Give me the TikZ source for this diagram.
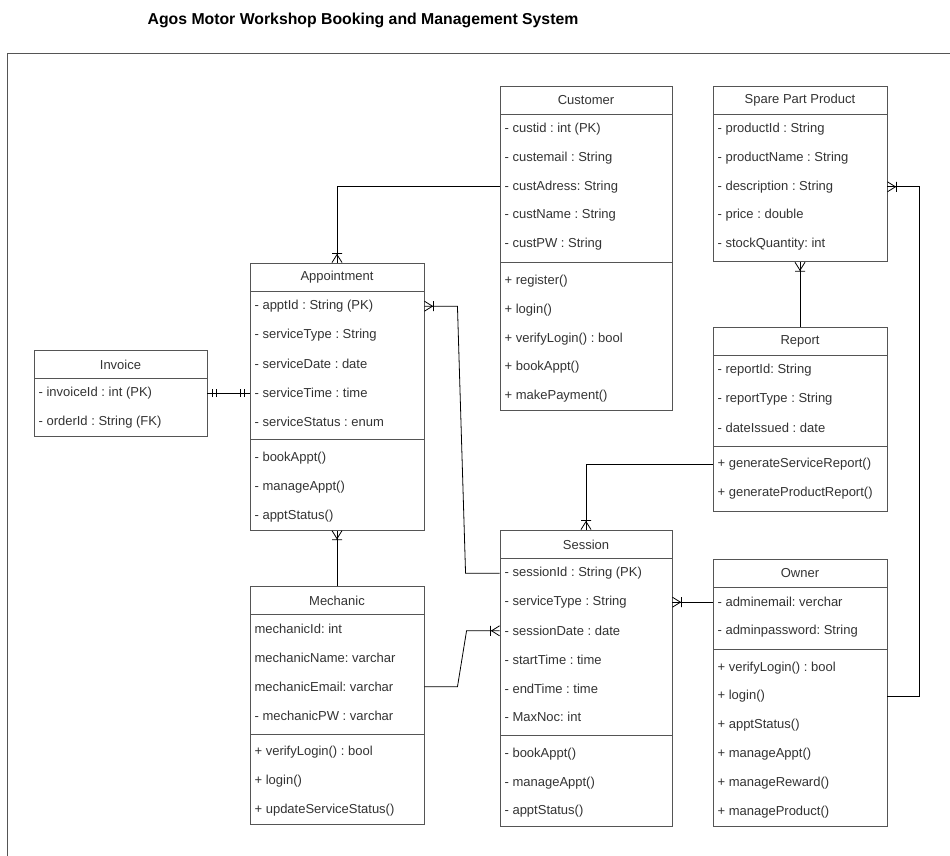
\documentclass[tikz,border=0pt]{standalone}
\usepackage{fontspec}
\setmainfont{Liberation Sans}
\usetikzlibrary{calc,fit,arrows.meta}
\definecolor{txtc}{HTML}{333333}
\definecolor{edgec}{HTML}{555555}
\frenchspacing

\pgfdeclarearrow{
  name = CrowBar,
  setup code = {
    \pgfarrowssettipend{0pt}
    \pgfarrowssetlineend{0pt}
    \pgfarrowssetbackend{-10pt}
    \pgfarrowssetvisualbackend{-10pt}
    \pgfarrowshullpoint{0pt}{5pt}
    \pgfarrowshullpoint{0pt}{-5pt}
    \pgfarrowshullpoint{-10pt}{0pt}
  },
  drawing code = {
    \pgfsetdash{}{0pt}
    \pgfpathmoveto{\pgfqpoint{0pt}{5pt}}
    \pgfpathlineto{\pgfqpoint{-8pt}{0pt}}
    \pgfpathlineto{\pgfqpoint{0pt}{-5pt}}
    \pgfpathmoveto{\pgfqpoint{-9pt}{5pt}}
    \pgfpathlineto{\pgfqpoint{-9pt}{-5pt}}
    \pgfusepathqstroke
  }
}
\pgfdeclarearrow{
  name = MandOne,
  setup code = {
    \pgfarrowssettipend{0pt}
    \pgfarrowssetlineend{0pt}
    \pgfarrowssetbackend{-10pt}
    \pgfarrowssetvisualbackend{-10pt}
    \pgfarrowshullpoint{0pt}{4pt}
    \pgfarrowshullpoint{0pt}{-4pt}
    \pgfarrowshullpoint{-10pt}{0pt}
  },
  drawing code = {
    \pgfsetdash{}{0pt}
    \pgfpathmoveto{\pgfqpoint{-5pt}{4pt}}
    \pgfpathlineto{\pgfqpoint{-5pt}{-4pt}}
    \pgfpathmoveto{\pgfqpoint{-9pt}{4pt}}
    \pgfpathlineto{\pgfqpoint{-9pt}{-4pt}}
    \pgfusepathqstroke
  }
}

\tikzset{
  classbox/.style={draw=edgec, line width=0.9pt, inner sep=0pt, rectangle},
  boxline/.style={draw=edgec, line width=0.9pt},
  attrtext/.style={anchor=west, inner sep=0pt, text=txtc, font=\fontsize{13}{15}\selectfont\frenchspacing},
  hdrtext/.style={inner sep=0pt, text=txtc, font=\fontsize{13}{15}\selectfont},
  conn/.style={draw=black, line width=0.8pt},
  framec/.style={draw=edgec, line width=0.9pt}
}

\newcommand\umlclass[8]{%
  \pgfmathsetmacro\ua{#4+28.8}%
  \foreach \txt [count=\i] in {#6}{%
    \node[attrtext] (#1-a\i) at ({#2+4.4},{\ua+28.8*(\i-0.5)}) {\txt};
    \xdef\una{\i}}%
  \pgfmathsetmacro\ub{\ua+28.8*\una}%
  \def\tmp{#7}%
  \ifx\tmp\empty
    \pgfmathsetmacro\ubot{\ub+#8}%
  \else
    \pgfmathsetmacro\usep{\ub+4}%
    \pgfmathsetmacro\um{\ub+8}%
    \foreach \txt [count=\i] in {#7}{%
      \node[attrtext] (#1-m\i) at ({#2+4.4},{\um+28.8*(\i-0.5)}) {\txt};
      \xdef\unm{\i}}%
    \pgfmathsetmacro\ubot{\um+28.8*\unm+#8}%
    \draw[boxline] (#2,\usep) -- (#3,\usep);
  \fi
  \node[classbox, fit={(#2,#4)(#3,\ubot)}] (#1) {};
  \node[hdrtext] (#1-t) at ({(#2+#3)/2},{#4+14.4}) {#5};
  \draw[boxline] (#2,\ua) -- (#3,\ua);
}

\begin{document}
\begin{tikzpicture}[x=1pt, y=-1pt]
\useasboundingbox (0,0) rectangle (950,856);
\clip (0,0) rectangle (950,856);
\fill[white] (0,0) rectangle (950,856);

\node[font=\bfseries\fontsize{15.8}{18}\selectfont, text=black] (title) at (363,20) {Agos Motor Workshop Booking and Management System};
\draw[framec] (7,53) rectangle (990,900);

\umlclass{cust}{500}{672}{86}{Customer}{{- custid : int (PK)},{- custemail : String},{- custAdress: String},{- custName : String},{- custPW : String}}{{+ register()},{+ login()},{+ verifyLogin() : bool},{+ bookAppt()},{+ makePayment()}}{0}
\umlclass{spare}{713}{887}{86}{Spare Part Product}{{- productId : String},{- productName : String},{- description : String},{- price : double},{- stockQuantity: int}}{}{3}
\umlclass{appt}{250}{424}{263}{Appointment}{{- apptId : String (PK)},{- serviceType : String},{- serviceDate : date},{- serviceTime : time},{- serviceStatus : enum}}{{- bookAppt()},{- manageAppt()},{- apptStatus()}}{0}
\umlclass{inv}{34}{207}{350}{Invoice}{{- invoiceId : int (PK)},{- orderId : String (FK)}}{}{0}
\umlclass{report}{713}{887}{327}{Report}{{- reportId: String},{- reportType : String},{- dateIssued : date}}{{+ generateServiceReport()},{+ generateProductReport()}}{4}
\umlclass{sess}{500}{672}{530}{Session}{{- sessionId : String (PK)},{- serviceType : String},{- sessionDate : date},{- startTime : time},{- endTime : time},{- MaxNoc: int}}{{- bookAppt()},{- manageAppt()},{- apptStatus()}}{0}
\umlclass{mech}{250}{424}{586}{Mechanic}{{mechanicId: int},{mechanicName: varchar},{mechanicEmail: varchar},{- mechanicPW : varchar}}{{+ verifyLogin() : bool},{+ login()},{+ updateServiceStatus()}}{0}
\umlclass{owner}{713}{887}{559}{Owner}{{- adminemail: verchar},{- adminpassword: String}}{{+ verifyLogin() : bool},{+ login()},{+ apptStatus()},{+ manageAppt()},{+ manageReward()},{+ manageProduct()}}{0}

% connectors
\draw[conn, -{CrowBar}] (cust.west |- cust-a3) -| (appt.north);
\draw[conn, {MandOne}-{MandOne}] (inv.east |- inv-a1) -- (appt.west |- inv-a1);
\coordinate (k1) at ($(appt.east |- appt-a1)+(33,0)$);
\coordinate (k2) at ($(sess.west |- sess-a1)+(-34,0)$);
\draw[conn, {CrowBar}-] (appt.east |- appt-a1) -- (k1) -- (k2) -- (sess.west |- sess-a1);
\coordinate (k3) at ($(mech.east |- mech-a3)+(33,0)$);
\coordinate (k4) at ($(sess.west |- sess-a3)+(-33,0)$);
\draw[conn, -{CrowBar}] (mech.east |- mech-a3) -- (k3) -- (k4) -- (sess.west |- sess-a3);
\draw[conn, -{CrowBar}] (mech.north) -- (appt.south);
\draw[conn, -{CrowBar}] (report.north) -- (spare.south);
\draw[conn, -{CrowBar}] (report.west |- report-m1) -| (sess.north);
\draw[conn, -{CrowBar}] (owner.west |- owner-a1) -- (sess.east |- owner-a1);
\coordinate (k5) at ($(owner.east |- owner-m2)+(32,0)$);
\draw[conn, -{CrowBar}] (owner.east |- owner-m2) -- (k5) |- (spare.east |- spare-a3);
\end{tikzpicture}
\end{document}
